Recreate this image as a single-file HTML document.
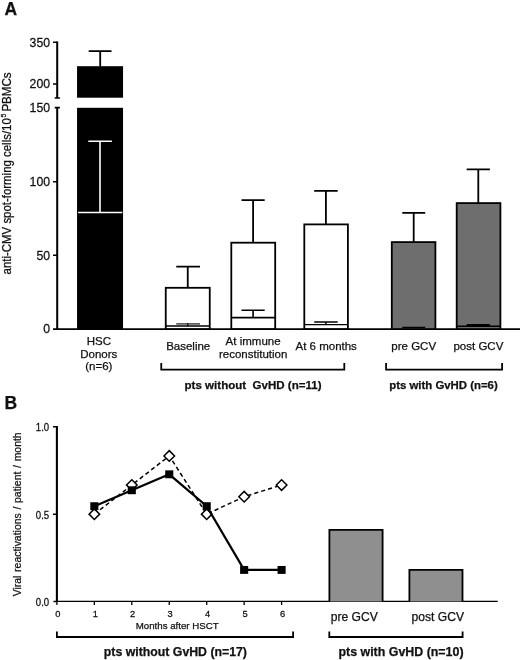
<!DOCTYPE html>
<html><head><meta charset="utf-8">
<style>
html,body{margin:0;padding:0;background:#fff;}
svg{display:block;will-change:transform;}
text{font-family:"Liberation Sans",sans-serif;fill:#111;stroke:#111;stroke-width:0.25;}
.b{font-weight:bold;}
</style></head><body>
<svg width="520" height="660" viewBox="0 0 520 660">
<rect width="520" height="660" fill="#fff"/>
<text x="4.6" y="15.1" class="b" font-size="17.5">A</text>
<g stroke="#000" fill="none">
<path stroke-width="2" d="M57.2 41.4V98M57.2 107.6V329.8"/>
<path stroke-width="1.6" d="M54.7 98H59.9M54.7 107.6H59.9M53 42.2H57.2M53 84H57.2M53 181.7H57.2M53 255.3H57.2"/>
<path stroke-width="1.6" d="M53 329.1H520"/>
</g>
<text transform="translate(50.1,46.55) scale(1,1.09)" font-size="12.3" text-anchor="end">350</text>
<text transform="translate(50.1,88.35) scale(1,1.09)" font-size="12.3" text-anchor="end">200</text>
<text transform="translate(50.1,111.95) scale(1,1.09)" font-size="12.3" text-anchor="end">150</text>
<text transform="translate(50.1,186.05) scale(1,1.09)" font-size="12.3" text-anchor="end">100</text>
<text transform="translate(50.1,259.65) scale(1,1.09)" font-size="12.3" text-anchor="end">50</text>
<text transform="translate(50.1,333.35) scale(1,1.09)" font-size="12.3" text-anchor="end">0</text>
<g transform="translate(11.4,0) rotate(-90) scale(1,1.07)"><text x="-274.4" y="0" font-size="11.43">anti-CMV spot-forming cells/10</text><text x="-117.5" y="-5.1" font-size="6.9" stroke-width="0.15">5</text><text x="-72.35" y="0" font-size="11.6" text-anchor="end">PBMCs</text></g>
<rect x="77.05" y="66.2" width="46" height="31.5" fill="#000"/>
<rect x="77.05" y="107.8" width="46" height="221.9" fill="#000"/>
<path d="M100.2 51.2V66.5M88.7 51.2H111.5" stroke="#000" stroke-width="1.8" fill="none"/>
<path d="M78.1 212.5H122.3M100 141.2V212.5M88.3 141.2H111.9" stroke="#fff" stroke-width="1.6" fill="none"/>
<g stroke="#000" stroke-width="1.8" fill="#fff">
<rect x="165.75" y="287.8" width="44" height="41.2"/>
<rect x="231.3" y="242.7" width="43.9" height="86.3"/>
<rect x="304.3" y="224.4" width="43.6" height="104.6"/>
</g>
<g stroke="#000" stroke-width="1.8" fill="none">
<path d="M187.75 266.6V288M176.25 266.6H200"/>
<path d="M165.75 326.1H209.75" stroke-width="1.5"/><path d="M176.25 323.9H200" stroke-width="1.5" stroke="#444"/><path d="M187.8 323.2V326" stroke-width="1.2"/>
<path d="M253.1 200.2V242.7M241.5 200.2H264.7"/>
<path d="M231.3 317.6H275.2M253.1 310.2V317.6M241.5 310.2H264.7" stroke-width="1.6"/>
<path d="M325.9 190.8V224.4M314.2 190.8H337.7"/>
<path d="M304.3 324.6H347.9M325.9 322V324.6M314.2 322H337.7" stroke-width="1.4"/>
</g>
<g stroke="#000" stroke-width="1.8" fill="#6e6e6e">
<rect x="391.8" y="242.1" width="43.6" height="87"/>
<rect x="456.7" y="203.1" width="43.7" height="126"/>
</g>
<g stroke="#000" stroke-width="1.8" fill="none">
<path d="M413.7 212.8V242.1M402.3 212.8H425.2"/>
<path d="M478.3 169.4V203.1M466.7 169.4H489.9"/>
<path d="M402.3 327.4H425.2M456.7 326.2H500.4M466.7 324.8H489.9" stroke-width="1.5"/>
</g>
<g font-size="11.5" text-anchor="middle">
  <text x="98.8" y="345.2">HSC</text>
  <text x="98.8" y="357.9">Donors</text>
  <text x="98.8" y="370.3">(n=6)</text>
  <text x="188.2" y="350.3">Baseline</text>
  <text x="253.1" y="345.2">At immune</text>
  <text x="253.2" y="357.7">reconstitution</text>
  <text x="326.2" y="350.3">At 6 months</text>
  <text x="413.7" y="350.3">pre GCV</text>
  <text x="478.4" y="350.3">post GCV</text>
</g>
<g stroke="#000" stroke-width="1.8" fill="none">
<path d="M161.25 362.9V369.6H344.3V362.9"/>
<path d="M386.1 362.9V369.6H502.1V362.9"/>
</g>
<text x="253.05" y="389.3" class="b" font-size="11.55" text-anchor="middle" xml:space="preserve">pts without  GvHD (n=11)</text>
<text x="443.5" y="389.3" class="b" font-size="11.4" text-anchor="middle">pts with GvHD (n=6)</text>
<text x="4.5" y="408.6" class="b" font-size="17.5">B</text>
<g stroke="#000" fill="none">
<path stroke-width="2.1" d="M56.9 426V602"/>
<path stroke-width="1.5" d="M53 426.8H56.9M53 514.2H56.9M53.5 601.5H57"/>
<path stroke-width="1.15" d="M56 601.4H497.8"/>
<path stroke-width="1.3" d="M56.9 601.4V604.9M94.35 601.4V604.9M131.8 601.4V604.9M169.25 601.4V604.9M206.7 601.4V604.9M244.15 601.4V604.9M281.6 601.4V604.9"/>
</g>
<text transform="translate(49.2,431.1) scale(1,1.06)" font-size="9.6" text-anchor="end" stroke-width="0.1">1.0</text>
<text transform="translate(49.2,518.5) scale(1,1.06)" font-size="9.6" text-anchor="end" stroke-width="0.1">0.5</text>
<text transform="translate(49.2,605.8) scale(1,1.06)" font-size="9.6" text-anchor="end" stroke-width="0.1">0.0</text>
<text transform="translate(57.8,617.4) scale(1,1.06)" font-size="9.3" text-anchor="middle" stroke-width="0.1">0</text>
<text transform="translate(95.25,617.4) scale(1,1.06)" font-size="9.3" text-anchor="middle" stroke-width="0.1">1</text>
<text transform="translate(132.7,617.4) scale(1,1.06)" font-size="9.3" text-anchor="middle" stroke-width="0.1">2</text>
<text transform="translate(170.15,617.4) scale(1,1.06)" font-size="9.3" text-anchor="middle" stroke-width="0.1">3</text>
<text transform="translate(207.6,617.4) scale(1,1.06)" font-size="9.3" text-anchor="middle" stroke-width="0.1">4</text>
<text transform="translate(245.05,617.4) scale(1,1.06)" font-size="9.3" text-anchor="middle" stroke-width="0.1">5</text>
<text transform="translate(282.5,617.4) scale(1,1.06)" font-size="9.3" text-anchor="middle" stroke-width="0.1">6</text>
<text x="177.2" y="628.9" font-size="9.7" text-anchor="middle" stroke-width="0.15">Months after HSCT</text>
<text transform="translate(20.6,514.3) rotate(-90)" text-anchor="middle" font-size="10.45" word-spacing="0.8">Viral reactivations / patient / month</text>
<polyline points="94.35,514.15 131.8,485.03 169.25,455.92 206.7,514.15 244.15,496.68 281.6,485.03" fill="none" stroke="#000" stroke-width="1.5" stroke-dasharray="4.2 3"/>
<g fill="#fff" stroke="#000" stroke-width="1.5">
<path d="M94.35 508.85l5.3 5.3l-5.3 5.3l-5.3 -5.3Z"/>
<path d="M131.8 479.73l5.3 5.3l-5.3 5.3l-5.3 -5.3Z"/>
<path d="M169.25 450.62l5.3 5.3l-5.3 5.3l-5.3 -5.3Z"/>
<path d="M206.7 508.85l5.3 5.3l-5.3 5.3l-5.3 -5.3Z"/>
<path d="M244.15 491.38l5.3 5.3l-5.3 5.3l-5.3 -5.3Z"/>
<path d="M281.6 479.73l5.3 5.3l-5.3 5.3l-5.3 -5.3Z"/>
</g>
<polyline points="94.35,506.18 131.8,490.25 169.25,474.31 206.7,506.18 244.15,569.93 281.6,569.93" fill="none" stroke="#000" stroke-width="2.2"/>
<g fill="#000">
<rect x="90.30" y="502.23" width="8.1" height="7.9"/>
<rect x="127.75" y="486.30" width="8.1" height="7.9"/>
<rect x="165.20" y="470.36" width="8.1" height="7.9"/>
<rect x="202.65" y="502.23" width="8.1" height="7.9"/>
<rect x="240.10" y="565.98" width="8.1" height="7.9"/>
<rect x="277.55" y="565.98" width="8.1" height="7.9"/>
</g>
<g stroke="#000" stroke-width="1.8" fill="#8f8f8f">
<path d="M329.4 601.4V529.8H382.6V601.4"/>
<path d="M409.4 601.4V569.8H462.5V601.4"/>
</g>
<g font-size="12.1" text-anchor="middle">
  <text x="354.3" y="620.7">pre GCV</text>
  <text x="437.8" y="620.7">post GCV</text>
</g>
<g stroke="#000" stroke-width="1.8" fill="none">
<path d="M56.9 631.6V637H293.1V631.6"/>
<path d="M329.3 631.6V637H462.6V631.6"/>
</g>
<text x="175.4" y="655.7" class="b" font-size="12.3" text-anchor="middle">pts without GvHD (n=17)</text>
<text x="401" y="655.7" class="b" font-size="12.42" text-anchor="middle">pts with GvHD (n=10)</text>
</svg>
</body></html>
